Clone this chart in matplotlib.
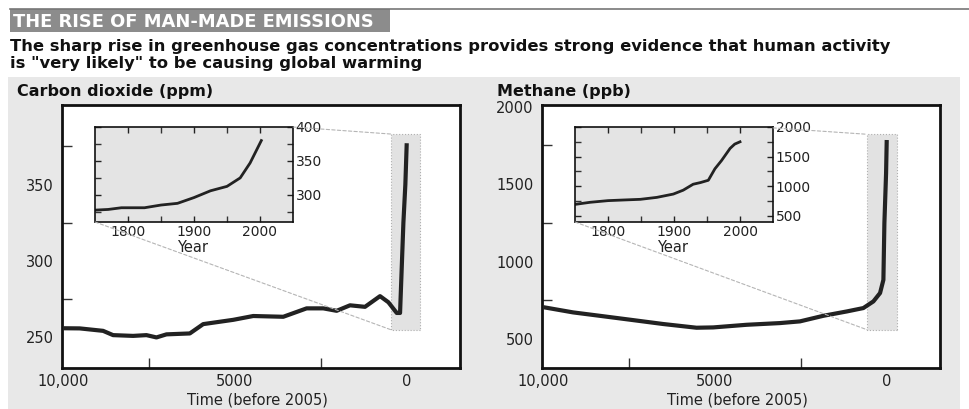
import matplotlib
matplotlib.use("Agg")
import matplotlib.pyplot as plt
from matplotlib.patches import Rectangle, ConnectionPatch
from matplotlib.lines import Line2D

plt.rcParams['font.family'] = ['DejaVu Sans']

W, H = 969, 409

# main series, years before 2005
co2_years = [10000, 9515, 8835, 8544, 7961, 7573, 7282, 6990, 6311, 5922, 5049, 4466,
             3592, 2913, 2427, 2039, 1650, 1214, 777, 534, 291, 194, 97, 40, 0]
co2_ppm = [256, 255.9, 254.3, 251.5, 251, 251.5, 250, 252, 252.6, 258.7, 261.5, 264,
           263.5, 269, 269, 267.4, 271, 270, 277, 273, 266, 266, 325, 350, 377]

ch4_years = [10000, 9126, 8350, 7476, 6505, 5534, 5049, 4078, 3107, 2524, 1845, 1165,
             680, 388, 194, 97, 68, 19, 0]
ch4_ppb = [706, 672, 650, 625, 597, 573, 575, 592, 603, 614, 650, 678,
           700, 743, 797, 882, 1248, 1570, 1785]

# inset series, calendar years
co2_inset_year = [1750, 1770, 1790, 1825, 1850, 1875, 1900, 1925, 1950, 1970, 1985, 2002]
co2_inset_ppm = [277.5, 278.5, 281, 281, 285, 287.5, 296, 306, 312.5, 325, 347, 380]

ch4_inset_year = [1751, 1773, 1800, 1824, 1849, 1874, 1899, 1914, 1929, 1940, 1952,
                  1962, 1972, 1985, 1992, 2000]
ch4_inset_ppb = [694, 728, 756, 767, 778, 811, 867, 933, 1033, 1061, 1100,
                 1294, 1433, 1639, 1711, 1750]

panels = [
    dict(title="Carbon dioxide (ppm)", x=co2_years, y=co2_ppm, ylim=(230, 402),
         yticks=[250, 300, 350], yminor=[275, 325, 375], shade=(456, -388, 255, 383),
         ix=co2_inset_year, iy=co2_inset_ppm, iylim=(260, 400), iyticks=[300, 350, 400],
         iyminor=[275, 325, 375], left=62),
    dict(title="Methane (ppb)", x=ch4_years, y=ch4_ppb, ylim=(313, 2011),
         yticks=[500, 1000, 1500, 2000], yminor=[750, 1250, 1750], shade=(573, -301, 560, 1822),
         ix=ch4_inset_year, iy=ch4_inset_ppb, iylim=(395, 1985), iyticks=[500, 1000, 1500, 2000],
         iyminor=[750, 1250, 1750], left=542),
]


def px(x, y, w, h):
    return [x / W, 1 - (y + h) / H, w / W, h / H]


fig = plt.figure(figsize=(W / 100, H / 100), dpi=100)
fig.patch.set_facecolor('white')

# header
fig.add_artist(Rectangle((8 / W, 1 - 409 / H), 952 / W, 332 / H, transform=fig.transFigure,
                         facecolor='#e8e8e8', edgecolor='none', zorder=-1))
fig.add_artist(Rectangle((10 / W, 1 - 32 / H), 380 / W, 23 / H, transform=fig.transFigure,
                         facecolor='#8c8c8c', edgecolor='none', zorder=-1))
fig.add_artist(Line2D([10 / W, 1], [1 - 9 / H, 1 - 9 / H], transform=fig.transFigure,
                      color='#777777', lw=1.2))
fig.text(13 / W, 1 - 27 / H, "THE RISE OF MAN-MADE EMISSIONS", color='white',
         fontsize=12.9, fontweight='bold', va='baseline', ha='left')
fig.text(10 / W, 1 - 51 / H, "The sharp rise in greenhouse gas concentrations provides strong evidence that human activity",
         fontsize=11.8, fontweight='bold', va='baseline', ha='left', color='#111111')
fig.text(10 / W, 1 - 68 / H, 'is "very likely" to be causing global warming',
         fontsize=11.8, fontweight='bold', va='baseline', ha='left', color='#111111')

for p in panels:
    L = p['left']
    fig.text((L - 45) / W, 1 - 96 / H, p['title'], fontsize=11.5, fontweight='bold',
             va='baseline', ha='left', color='#111111')

    ax = fig.add_axes(px(L, 105, 398, 263))
    ax.set_facecolor('white')
    ax.set_xlim(10030, -1550)
    ax.set_ylim(*p['ylim'])
    for s in ax.spines.values():
        s.set_linewidth(2.0)
        s.set_color('#111111')

    x0, x1, y0, y1 = p['shade']
    ax.add_patch(Rectangle((x1, y0), x0 - x1, y1 - y0, facecolor='#e2e2e2',
                           edgecolor='#b0b0b0', lw=0.8, ls=':', zorder=1))
    ax.plot(p['x'], p['y'], color='#222222', lw=3.0, solid_capstyle='butt', zorder=3)

    ax.set_xticks([10000, 5000, 0])
    ax.set_xticklabels(["10,000", "5000", "0"])
    ax.set_xticks([7500, 2500], minor=True)
    ax.set_yticks(p['yticks'])
    ax.set_yticks(p['yminor'], minor=True)
    ax.tick_params(which='major', length=0, labelsize=10.5, colors='#222222', pad=6)
    ax.tick_params(axis='x', which='major', pad=4)
    ax.tick_params(which='minor', direction='in', length=7, width=1, color='#333333')
    ax.set_xlabel("Time (before 2005)", fontsize=10.5, color='#222222')
    ax.xaxis.set_label_coords(0.49, -0.094)

    ins = fig.add_axes(px(L + 33, 127, 198, 95))
    ins.set_facecolor('#e4e4e4')
    ins.set_xlim(1750, 2050)
    ins.set_ylim(*p['iylim'])
    for s in ins.spines.values():
        s.set_linewidth(1.2)
        s.set_color('#111111')
    ins.plot(p['ix'], p['iy'], color='#222222', lw=2.0)
    ins.set_xticks([1800, 1900, 2000])
    ins.set_xticks([1850, 1950], minor=True)
    ins.set_yticks(p['iyticks'])
    ins.set_yticks(p['iyminor'], minor=True)
    ins.yaxis.tick_right()
    ins.tick_params(which='both', direction='in', length=4, width=1, color='#333333',
                    top=True, bottom=True, left=True, right=True)
    ins.tick_params(which='major', labelsize=10, colors='#222222', pad=2)
    ins.tick_params(axis='y', labelleft=False, labelright=True)
    ins.set_xlabel("Year", fontsize=10.5, color='#222222')
    ins.xaxis.set_label_coords(0.495, -0.185)

    ylo, yhi = p['iylim']
    for a, b in [((2050, yhi), (x0, y1)), ((1750, ylo), (x0, y0))]:
        con = ConnectionPatch(xyA=a, coordsA=ins.transData, xyB=b, coordsB=ax.transData,
                              color='#b5b5b5', lw=0.8, ls=(0, (3, 2)))
        con.set_zorder(0.5)
        fig.add_artist(con)

fig.savefig("out.png", dpi=100)
